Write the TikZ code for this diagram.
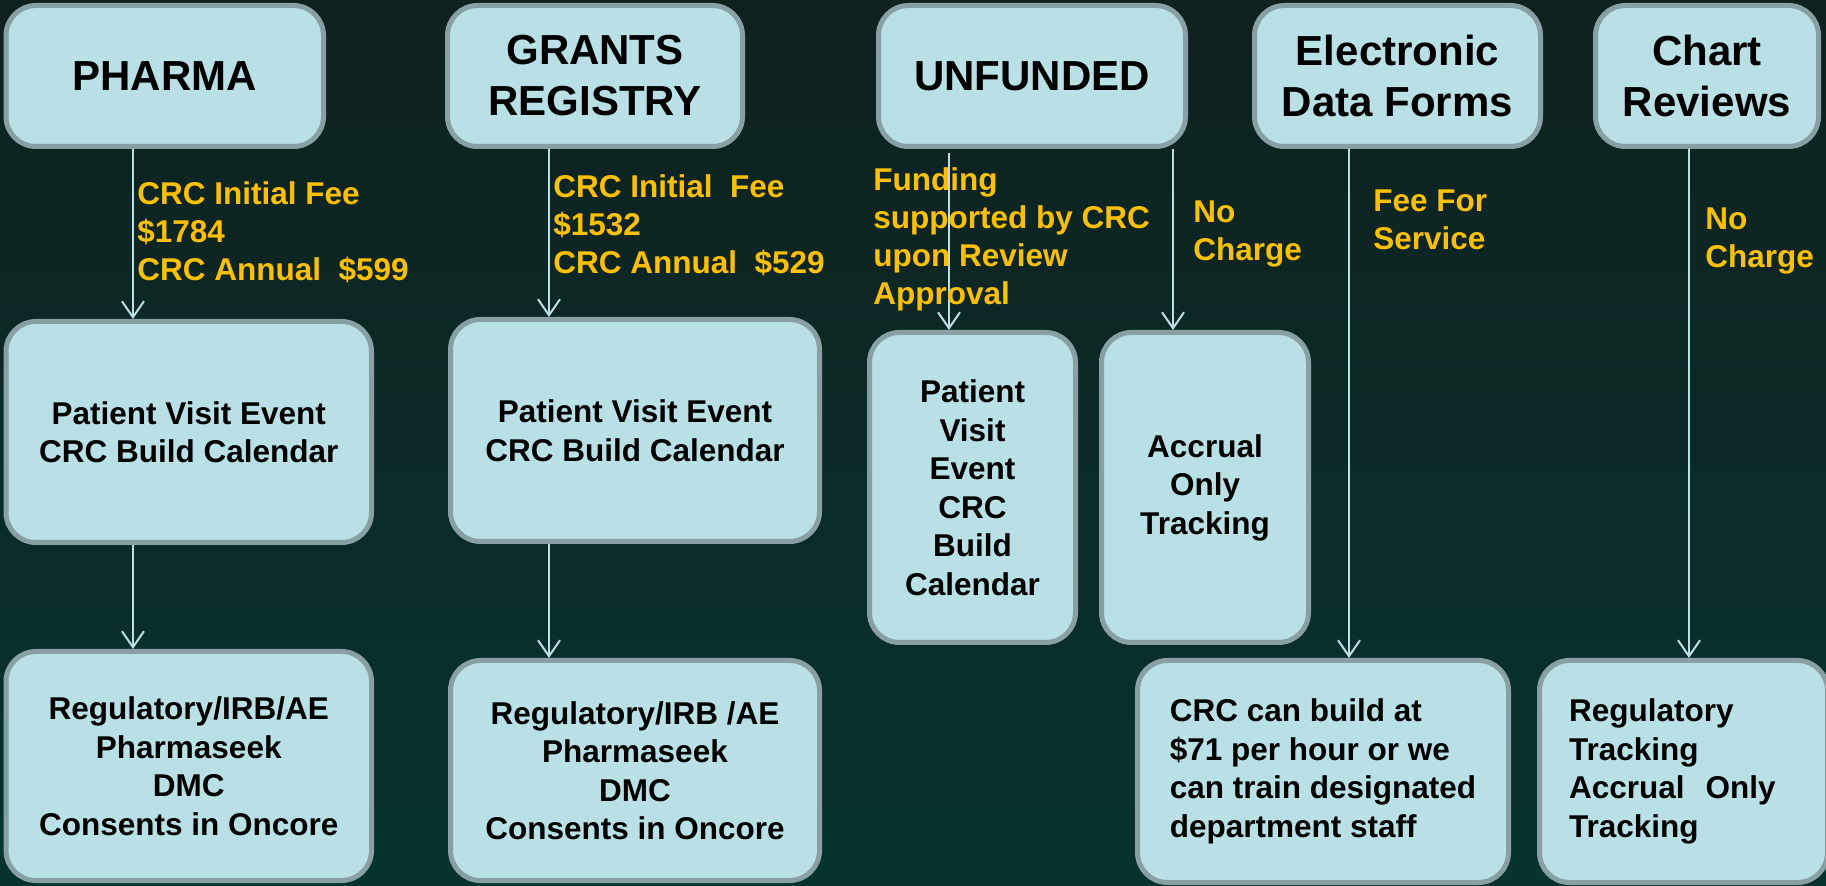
\documentclass[tikz,border=0pt]{standalone}
\usepackage{fontspec}
\setmainfont{Liberation Sans}
\usetikzlibrary{arrows.meta}

\definecolor{bgtop}{HTML}{0F211F}
\definecolor{bgmid}{HTML}{133433}
\definecolor{bgbot}{HTML}{07332F}
\definecolor{boxfill}{HTML}{B9E0E4}
\definecolor{boxline}{HTML}{88A0A3}
\definecolor{flowline}{HTML}{B9E0E4}
\definecolor{fee}{HTML}{FFC000}

\begin{document}
\begin{tikzpicture}[x=0.5pt,y=0.5pt]
\tikzstyle{box}=[draw=boxline, fill=boxfill, line width=2.5pt, rounded corners=15pt, align=center, text=black, font=\fontsize{15.75}{19.25}\selectfont\bfseries]
\tikzstyle{head}=[box, minimum height=70.5pt, font=\fontsize{21}{25.5}\selectfont\bfseries]
\tikzstyle{note}=[text=fee, anchor=north west, inner sep=0pt, align=left, font=\fontsize{15.75}{19}\selectfont\bfseries]
\tikzstyle{flow}=[draw=flowline, line width=1pt, -{Straight Barb[length=8pt,width=11pt]}]
\useasboundingbox (0,0) rectangle (1826,-886);
\shade [top color=bgtop, middle color=bgmid, bottom color=bgbot] (0,0) rectangle (1826,-886);

\node [head, minimum width=158.75pt] (pharma) at (164.75,-76) {PHARMA};
\node [head, minimum width=147.5pt] (grants) at (595,-76) {GRANTS\\REGISTRY};
\node [head, minimum width=153.5pt] (unfunded) at (1032,-76) {UNFUNDED};
\node [head, minimum width=143pt] (edf) at (1397.5,-76) {Electronic\\Data Forms};
\node [head, minimum width=111.5pt] (chart) at (1707,-76) {Chart\\Reviews};

\node [box, minimum width=182.75pt, minimum height=110.5pt] (pvpharma) at (188.75,-432) {Patient Visit Event\\CRC Build Calendar};
\node [box, minimum width=184.5pt, minimum height=111pt] (pvgrants) at (635,-430.5) {Patient Visit Event\\CRC Build Calendar};
\node [box, minimum width=103pt, minimum height=155pt] (pvunfunded) at (972.5,-487.5) {Patient\\Visit\\Event\\CRC\\Build\\Calendar};
\node [box, minimum width=103.5pt, minimum height=155pt] (accrual) at (1205,-487.5) {Accrual\\Only\\Tracking};

\node [box, minimum width=182.75pt, minimum height=114.5pt] (regpharma) at (188.75,-766) {Regulatory/IRB/AE\\Pharmaseek\\DMC\\Consents in Oncore};
\node [box, minimum width=184.5pt, minimum height=110pt] (reggrants) at (635,-770.5) {Regulatory/IRB /AE\\Pharmaseek\\DMC\\Consents in Oncore};
\node [box, align=left, minimum width=185.5pt, minimum height=111pt] (crcbuild) at (1323,-771.5) {CRC can build at\\\$71 per hour or we\\can train designated\\department staff};
\node [box, align=left, inner xsep=14.75pt, text width=114.5pt, minimum height=111pt] (regtrack) at (1683.5,-771.5) {Regulatory\\Tracking\\Accrual\ \ Only\\Tracking};

\draw [flow] ([xshift=-15.9pt]pharma.south) -- ([xshift=-27.9pt]pvpharma.north);
\draw [flow] ([xshift=-27.9pt]pvpharma.south) -- ([xshift=-27.9pt]regpharma.north);
\draw [flow] ([xshift=-23pt]grants.south) -- ([xshift=-43pt]pvgrants.north);
\draw [flow] ([xshift=-43pt]pvgrants.south) -- ([xshift=-43pt]reggrants.north);
\draw [flow] ([xshift=-41.5pt,yshift=-2pt]unfunded.south) -- ([xshift=-11.75pt]pvunfunded.north);
\draw [flow] ([xshift=70.5pt]unfunded.south) -- ([xshift=-16pt]accrual.north);
\draw [flow] ([xshift=-24.25pt]edf.south) -- ([xshift=13pt]crcbuild.north);
\draw [flow] ([xshift=-9pt]chart.south) -- ([xshift=2.75pt]regtrack.north);

\node [note] (feepharma) at (137,-181.5) {CRC Initial Fee\\\$1784\\CRC Annual\ \ \$599};
\node [note] (feegrants) at (553,-174.5) {CRC Initial\ \ Fee\\\$1532\\CRC Annual\ \ \$529};
\node [note] (feeunfunded) at (873,-167) {Funding\\supported by CRC\\upon Review\\Approval};
\node [note] (nochargeA) at (1193,-200.5) {No\\Charge};
\node [note] (feeedf) at (1373,-189.5) {Fee For\\Service};
\node [note] (nochargeB) at (1705,-207.5) {No\\Charge};
\end{tikzpicture}
\end{document}
